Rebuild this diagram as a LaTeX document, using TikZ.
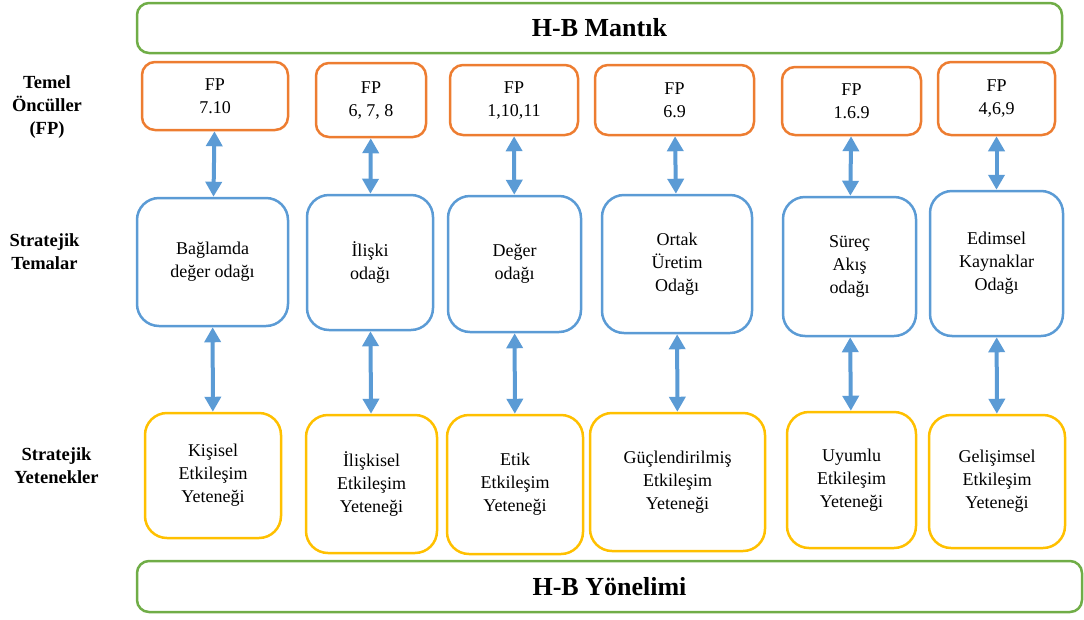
\documentclass[tikz,border=0pt]{standalone}
\usepackage{fontspec}
\setmainfont{Liberation Serif}
\usetikzlibrary{arrows.meta}
\definecolor{framegreen}{HTML}{70AD47}
\definecolor{fporange}{HTML}{ED7D31}
\definecolor{themeblue}{HTML}{5B9BD5}
\definecolor{capyellow}{HTML}{FFC000}

\begin{document}
\begin{tikzpicture}[x=1pt,y=-1pt,
  box/.style={draw, line width=2.5pt, rounded corners=#1, align=center,
    inner sep=0pt, font=\fontsize{18}{23}\selectfont},
  fpbox/.style={box=13pt, draw=fporange},
  themebox/.style={box=22pt, draw=themeblue},
  capbox/.style={box=22pt, draw=capyellow},
  bandbox/.style={draw=framegreen, line width=2.5pt, rounded corners=12pt,
    inner sep=0pt, font=\fontsize{26}{30}\selectfont\bfseries},
  rowlabel/.style={align=center, font=\fontsize{18.5}{23}\selectfont\bfseries},
  link/.style={themeblue, line width=4pt,
    {Triangle[width=16pt,length=15pt]}-{Triangle[width=16pt,length=15pt]}}
]
\useasboundingbox (0,0) rectangle (1084,619);

% top and bottom bands
\node[bandbox, minimum width=925pt, minimum height=50pt] (logic) at (599.5,28) {H-B Mantık};
\node[bandbox, minimum width=945pt, minimum height=51pt] (orient) at (609.5,586.5) {H-B Yönelimi};

% row labels
\node[rowlabel] (lfp) at (47,107) {Temel\\Öncüller\\(FP)};
\node[rowlabel] (lth) at (44.5,252) {Stratejik\\Temalar};
\node[rowlabel] (lcap) at (56.5,466) {Stratejik\\Yetenekler};

% foundational premises
\node[fpbox, minimum width=146pt, minimum height=68pt] (fp1) at (215,96) {FP\\7.10};
\node[fpbox, minimum width=110pt, minimum height=74pt] (fp2) at (371,100) {FP\\6, 7, 8};
\node[fpbox, minimum width=128pt, minimum height=70pt] (fp3) at (514,100) {FP\\1,10,11};
\node[fpbox, minimum width=159pt, minimum height=70pt] (fp4) at (674.5,100) {FP\\6.9};
\node[fpbox, minimum width=139pt, minimum height=68pt] (fp5) at (851.5,101) {FP\\1.6.9};
\node[fpbox, minimum width=117pt, minimum height=73pt] (fp6) at (996.5,98.5) {FP\\4,6,9};

% strategic themes
\node[themebox, minimum width=151pt, minimum height=128pt] (th1) at (212.5,262) {Bağlamda\\değer odağı};
\node[themebox, minimum width=126pt, minimum height=135pt] (th2) at (370,262.5) {İlişki\\odağı};
\node[themebox, minimum width=133pt, minimum height=136pt] (th3) at (514.5,264) {Değer\\odağı};
\node[themebox, minimum width=150pt, minimum height=138pt] (th4) at (677,264) {Ortak\\Üretim\\Odağı};
\node[themebox, minimum width=133pt, minimum height=139pt] (th5) at (849.5,266.5) {Süreç\\Akış\\odağı};
\node[themebox, minimum width=133pt, minimum height=145pt] (th6) at (996.5,263.5) {Edimsel\\Kaynaklar\\Odağı};

% strategic capabilities
\node[capbox, minimum width=136pt, minimum height=125pt] (cp1) at (213,475.5) {Kişisel\\Etkileşim\\Yeteneği};
\node[capbox, minimum width=131pt, minimum height=138pt] (cp2) at (371.5,484) {İlişkisel\\Etkileşim\\Yeteneği};
\node[capbox, minimum width=136pt, minimum height=139pt] (cp3) at (515,484.5) {Etik\\Etkileşim\\Yeteneği};
\node[capbox, minimum width=175pt, minimum height=138pt] (cp4) at (677.5,482) {Güçlendirilmiş\\Etkileşim\\Yeteneği};
\node[capbox, minimum width=129pt, minimum height=136pt] (cp5) at (851.5,480) {Uyumlu\\Etkileşim\\Yeteneği};
\node[capbox, minimum width=136pt, minimum height=133pt] (cp6) at (997,481.5) {Gelişimsel\\Etkileşim\\Yeteneği};

% two-way links between the rows
\foreach \i in {1,...,6} {
  \draw[link] (fp\i) -- (th\i);
  \draw[link] (th\i) -- (cp\i);
}
\end{tikzpicture}
\end{document}
